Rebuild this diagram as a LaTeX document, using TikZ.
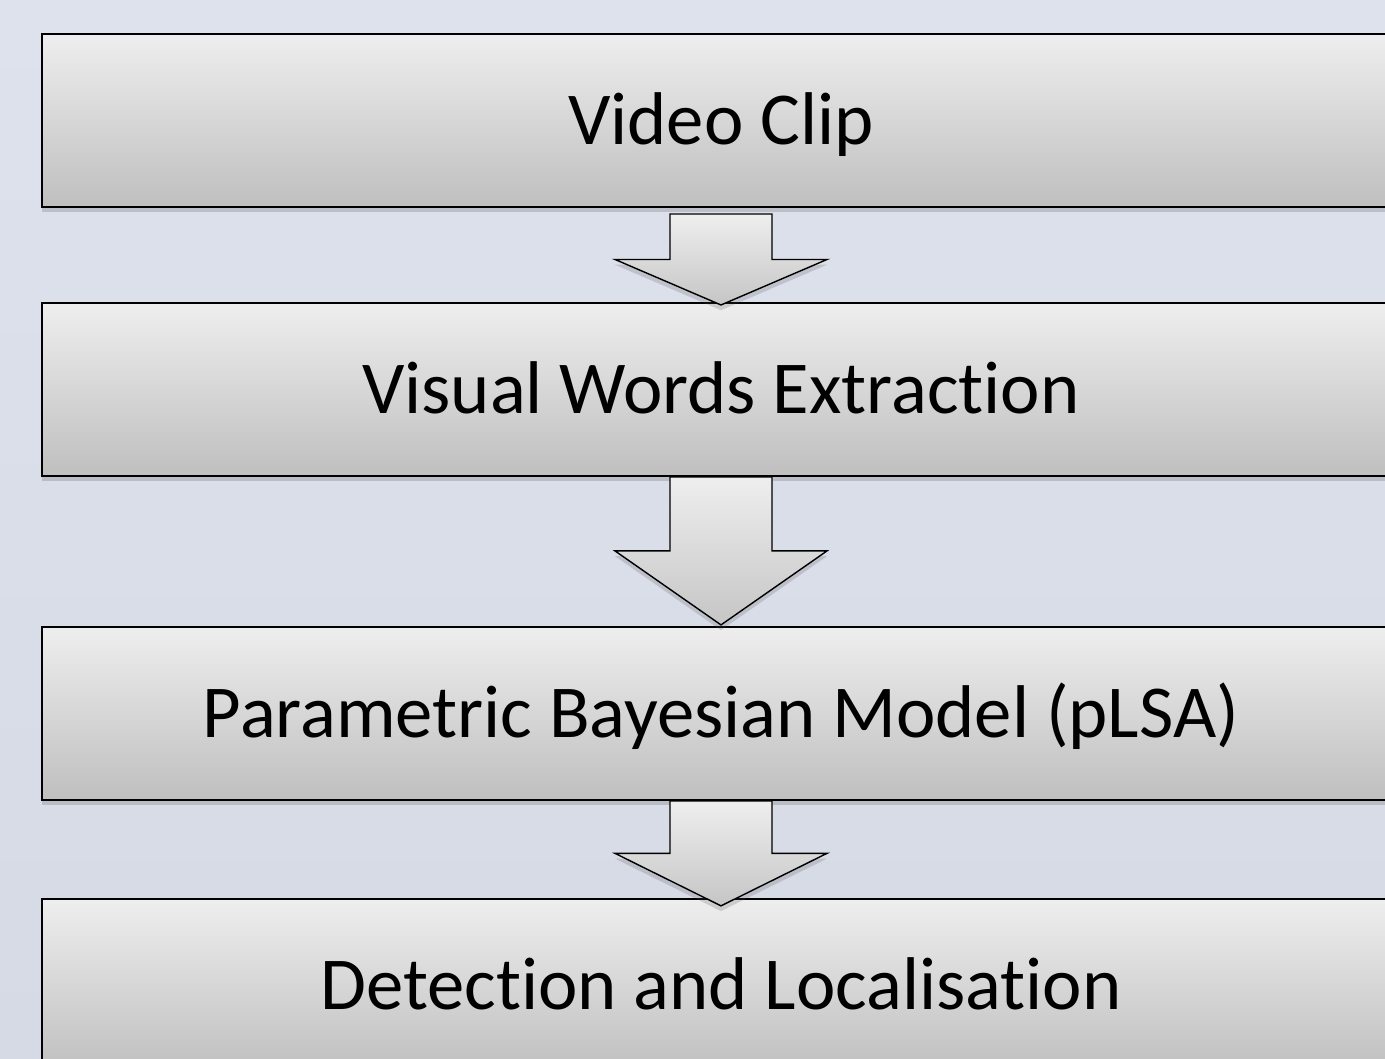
\documentclass[tikz,border=0pt]{standalone}
\usepackage{fontspec}
\setmainfont{Carlito}[Ligatures=NoCommon]
\usepackage{xcolor}
\usepackage{tikz}
\usetikzlibrary{positioning,calc,shadows}
\definecolor{slidebg}{RGB}{222,226,236}
\definecolor{slidebgdark}{RGB}{214,218,229}
\definecolor{boxtop}{RGB}{238,238,238}
\definecolor{boxbottom}{RGB}{191,191,191}

% down arrow between two coordinates, head takes half of the length
\newcommand{\stagearrow}[2]{%
  \path[flowarrow] let \p1=(#1), \p2=(#2) in
    (\x1-1.02cm,\y1) -- (\x1+1.02cm,\y1) -- (\x1+1.02cm,{(\y1+\y2)/2})
    -- (\x1+2.12cm,{(\y1+\y2)/2}) -- (\x1,\y2)
    -- (\x1-2.12cm,{(\y1+\y2)/2}) -- (\x1-1.02cm,{(\y1+\y2)/2}) -- cycle;}

\begin{document}
\begin{tikzpicture}[
  node distance=1.9cm,
  stagebox/.style={
    rectangle, draw=black, line width=1.1pt,
    top color=boxtop, bottom color=boxbottom,
    minimum width=27.16cm, minimum height=3.46cm,
    text height=27pt, text depth=0pt, inner sep=0pt,
    font=\fontsize{42.5}{51}\selectfont,
    drop shadow={shadow xshift=0pt, shadow yshift=-3pt, opacity=0.22, fill=black!70}
  },
  flowarrow/.style={
    draw=black, line width=0.8pt, line join=miter,
    top color=boxtop!98!white, bottom color=boxbottom!90!white,
    drop shadow={shadow xshift=0pt, shadow yshift=-3pt, opacity=0.2, fill=black!70}
  }
]

% slide background
\fill[top color=slidebg, bottom color=slidebgdark] (0,0) rectangle (27.7,-21.18);
\useasboundingbox (0,0) rectangle (27.7,-21.18);
\clip (0,0) rectangle (27.7,-21.18);

\node[stagebox] (clip) at (14.42,-2.41) {Video Clip};
\node[stagebox, below=1.88cm of clip] (words) {Visual Words Extraction};
\node[stagebox, below=2.98cm of words] (model) {Parametric Bayesian Model (pLSA)};
\node[stagebox, below=1.94cm of model] (detect) {Detection and Localisation};

\coordinate (a1s) at ([yshift=-0.12cm]clip.south);
\coordinate (a1e) at ([yshift=-0.06cm]words.north);
\coordinate (a2s) at (words.south);
\coordinate (a2e) at ([yshift=0.02cm]model.north);
\coordinate (a3s) at (model.south);
\coordinate (a3e) at ([yshift=-0.16cm]detect.north);

\stagearrow{a1s}{a1e}
\stagearrow{a2s}{a2e}
\stagearrow{a3s}{a3e}

\end{tikzpicture}
\end{document}
